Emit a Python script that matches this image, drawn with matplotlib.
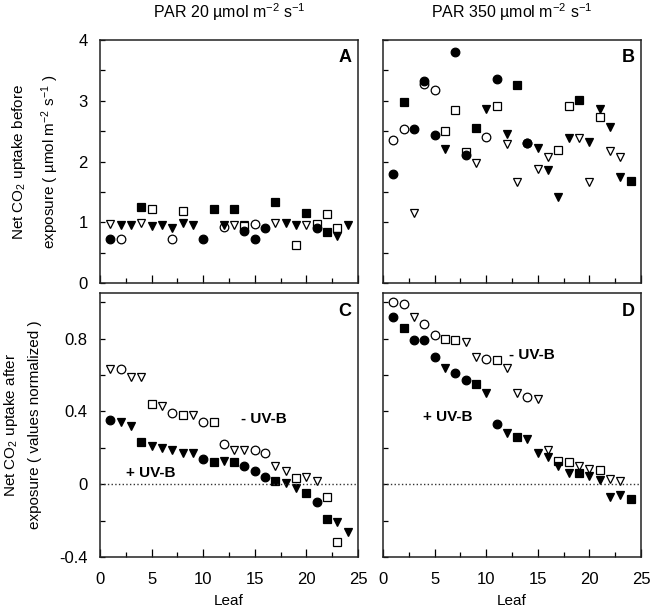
import matplotlib
matplotlib.use('Agg')
import matplotlib.pyplot as plt
from matplotlib.ticker import MultipleLocator

plt.rcParams['font.family'] = ['Liberation Sans', 'DejaVu Sans']
plt.rcParams['mathtext.fontset'] = 'custom'
plt.rcParams['mathtext.rm'] = 'Liberation Sans'
plt.rcParams['mathtext.it'] = 'Liberation Sans:italic'

# leaf number / value pairs, one list per marker type
# panel A : PAR 20, before exposure
A_fc_x = [1, 10, 14, 15, 16, 21]
A_fc_y = [0.73, 0.72, 0.85, 0.73, 0.91, 0.90]
A_oc_x = [2, 7, 12, 15]
A_oc_y = [0.73, 0.73, 0.92, 0.97]
A_fs_x = [4, 11, 13, 17, 20, 22]
A_fs_y = [1.25, 1.22, 1.22, 1.34, 1.15, 0.84]
A_os_x = [5, 8, 14, 19, 21, 22, 23]
A_os_y = [1.22, 1.19, 0.94, 0.63, 0.97, 1.13, 0.91]
A_ft_x = [2, 3, 5, 6, 7, 8, 9, 12, 18, 19, 23, 24]
A_ft_y = [0.96, 0.95, 0.94, 0.95, 0.91, 0.99, 0.96, 0.96, 0.99, 0.96, 0.78, 0.96]
A_ot_x = [1, 4, 13, 14, 17, 20]
A_ot_y = [0.97, 0.98, 0.96, 0.96, 0.98, 0.96]

# panel B : PAR 350, before exposure
B_fc_x = [1, 3, 4, 5, 7, 8, 11, 14]
B_fc_y = [1.79, 2.54, 3.33, 2.44, 3.80, 2.10, 3.36, 2.30]
B_oc_x = [1, 2, 4, 5, 10, 14]
B_oc_y = [2.36, 2.53, 3.28, 3.18, 2.41, 2.30]
B_fs_x = [2, 9, 13, 19, 24]
B_fs_y = [2.98, 2.55, 3.26, 3.01, 1.68]
B_os_x = [6, 7, 8, 11, 17, 18, 21]
B_os_y = [2.51, 2.84, 2.15, 2.91, 2.19, 2.91, 2.73]
B_ft_x = [6, 10, 12, 15, 16, 17, 18, 20, 21, 22, 23]
B_ft_y = [2.20, 2.87, 2.46, 2.23, 1.86, 1.42, 2.39, 2.32, 2.86, 2.57, 1.74]
B_ot_x = [3, 9, 12, 13, 15, 16, 19, 20, 22, 23]
B_ot_y = [1.16, 1.97, 2.29, 1.67, 1.87, 2.07, 2.39, 1.67, 2.17, 2.07]

# panel C : PAR 20, after exposure (normalized)
C_fc_x = [1, 10, 14, 15, 16, 21]
C_fc_y = [0.35, 0.14, 0.10, 0.07, 0.04, -0.10]
C_fs_x = [4, 11, 13, 17, 20, 22]
C_fs_y = [0.23, 0.12, 0.12, 0.02, -0.05, -0.19]
C_ft_x = [2, 3, 5, 6, 7, 8, 9, 12, 18, 19, 23, 24]
C_ft_y = [0.34, 0.32, 0.21, 0.20, 0.19, 0.17, 0.17, 0.13, 0.005, -0.02, -0.21, -0.26]
C_oc_x = [2, 7, 10, 12, 15, 16]
C_oc_y = [0.63, 0.39, 0.34, 0.22, 0.19, 0.17]
C_os_x = [5, 8, 11, 19, 22, 23]
C_os_y = [0.44, 0.38, 0.34, 0.035, -0.07, -0.32]
C_ot_x = [1, 3, 4, 6, 9, 13, 14, 17, 18, 20, 21]
C_ot_y = [0.63, 0.59, 0.59, 0.43, 0.38, 0.19, 0.19, 0.10, 0.07, 0.04, 0.02]

# panel D : PAR 350, after exposure (normalized)
D_fc_x = [1, 3, 4, 5, 7, 8, 11]
D_fc_y = [0.92, 0.79, 0.79, 0.70, 0.61, 0.57, 0.33]
D_fs_x = [2, 9, 13, 19, 24]
D_fs_y = [0.86, 0.55, 0.26, 0.06, -0.08]
D_ft_x = [6, 10, 12, 14, 15, 16, 17, 18, 20, 21, 22, 23]
D_ft_y = [0.64, 0.50, 0.28, 0.25, 0.17, 0.15, 0.10, 0.06, 0.045, 0.025, -0.07, -0.06]
D_oc_x = [1, 2, 4, 5, 10, 14]
D_oc_y = [1.0, 0.99, 0.88, 0.82, 0.69, 0.48]
D_os_x = [6, 7, 11, 17, 18, 21]
D_os_y = [0.80, 0.79, 0.68, 0.13, 0.12, 0.076]
D_ot_x = [3, 8, 9, 12, 13, 15, 16, 19, 20, 22, 23]
D_ot_y = [0.92, 0.78, 0.70, 0.64, 0.50, 0.47, 0.19, 0.10, 0.085, 0.03, 0.02]

titles = ['PAR 20 µmol m$^{-2}$ s$^{-1}$', 'PAR 350 µmol m$^{-2}$ s$^{-1}$']
letters = ['A', 'B', 'C', 'D']

styles = {
    'fc': dict(marker='o', ms=6.2, mfc='black', mec='black'),
    'oc': dict(marker='o', ms=6.2, mfc='white', mec='black'),
    'fs': dict(marker='s', ms=5.6, mfc='black', mec='black'),
    'os': dict(marker='s', ms=5.6, mfc='white', mec='black'),
    'ft': dict(marker='v', ms=6.2, mfc='black', mec='black'),
    'ot': dict(marker='v', ms=6.2, mfc='white', mec='black'),
}

def draw(ax, d):
    for key in ['ot', 'os', 'oc', 'ft', 'fs', 'fc']:
        ax.plot(d[key + '_x'], d[key + '_y'], ls='none', mew=0.9, **styles[key])

def panel_data(p):
    g = globals()
    return {k: g[p + '_' + k] for k in
            ['fc_x', 'fc_y', 'oc_x', 'oc_y', 'fs_x', 'fs_y', 'os_x', 'os_y',
             'ft_x', 'ft_y', 'ot_x', 'ot_y']}

fig = plt.figure(figsize=(6.6, 6.14), dpi=100)
W, H = 660.0, 614.0
lefts = [100, 383]
aw = 258
tops = [40, 293]
ahs = [243, 264]

axes = {}
for r in range(2):
    for c in range(2):
        ax = fig.add_axes([lefts[c] / W, 1 - (tops[r] + ahs[r]) / H, aw / W, ahs[r] / H])
        axes[letters[r * 2 + c]] = ax

for name, ax in axes.items():
    draw(ax, panel_data(name))
    ax.set_xlim(0, 25)
    ax.xaxis.set_major_locator(MultipleLocator(5))
    ax.xaxis.set_minor_locator(MultipleLocator(2.5))
    ax.tick_params(which='both', direction='in', top=False, right=False, labelsize=12)
    ax.tick_params(axis='x', which='both', pad=11)
    ax.tick_params(axis='y', which='both', pad=9)
    ax.tick_params(which='major', length=6, width=0.9)
    ax.tick_params(which='minor', length=3.5, width=0.9)
    for s in ax.spines.values():
        s.set_linewidth(1.1)
        s.set_color('#222222')
    ax.text(0.975, 0.93, name, transform=ax.transAxes, ha='right', va='center',
            fontsize=13, fontweight='bold')

for name in ['A', 'B']:
    ax = axes[name]
    ax.set_ylim(0, 4)
    ax.yaxis.set_major_locator(MultipleLocator(1))
    ax.yaxis.set_minor_locator(MultipleLocator(0.5))
    ax.tick_params(axis='y', which='both', length=3.5)
    ax.set_xticklabels([])
for name in ['C', 'D']:
    ax = axes[name]
    ax.set_ylim(-0.4, 1.05)
    ax.yaxis.set_major_locator(MultipleLocator(0.4))
    ax.yaxis.set_minor_locator(MultipleLocator(0.2))
    ax.tick_params(axis='y', which='both', length=3.5)
    ax.axhline(0, color='#333333', ls=':', lw=1)
    ax.set_xlabel('Leaf', fontsize=11, labelpad=5)
for name in ['B', 'D']:
    axes[name].set_yticklabels([])

axes['A'].set_yticks([0, 1, 2, 3, 4])
axes['A'].set_yticklabels(['0', '1', '2', '3', '4'])
axes['C'].set_yticks([-0.4, 0, 0.4, 0.8])
axes['C'].set_yticklabels(['-0.4', '0', '0.4', '0.8'])

axes['A'].set_ylabel('Net CO$_2$ uptake before\nexposure ( µmol m$^{-2}$ s$^{-1}$ )',
                     fontsize=11, labelpad=12, linespacing=1.75)
axes['C'].set_ylabel('Net CO$_2$ uptake after\nexposure ( values normalized )',
                     fontsize=11, labelpad=12, linespacing=1.75)

axes['A'].set_title(titles[0], fontsize=11.5, pad=16)
axes['B'].set_title(titles[1], fontsize=11.5, pad=16)

axes['C'].text(15.85, 0.36, '- UV-B', ha='center', va='center', fontsize=11, fontweight='bold')
axes['C'].text(4.9, 0.064, '+ UV-B', ha='center', va='center', fontsize=11, fontweight='bold')
axes['D'].text(14.4, 0.71, '- UV-B', ha='center', va='center', fontsize=11, fontweight='bold')
axes['D'].text(6.3, 0.37, '+ UV-B', ha='center', va='center', fontsize=11, fontweight='bold')

fig.savefig('out.png', dpi=100)
